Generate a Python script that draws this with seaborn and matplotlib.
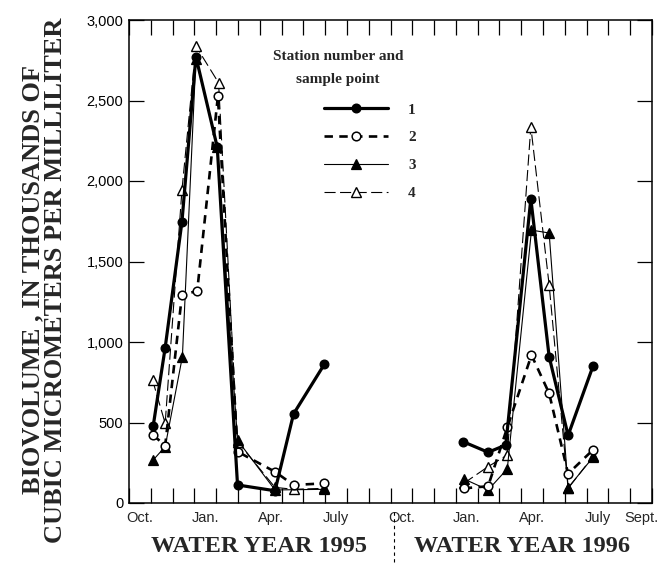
import matplotlib
matplotlib.use("Agg")
import matplotlib.pyplot as plt
from matplotlib.lines import Line2D
import seaborn as sns
import pandas as pd

# Sample times are months elapsed since 1 October 1994; values are biovolume
# in thousands of cubic micrometers per milliliter.
st1_t95 = [1.11, 1.66, 2.43, 3.07, 4.05, 4.98, 6.70, 7.55, 8.97]
st1_v95 = [478, 965, 1747, 2772, 2210, 112, 76, 553, 863]
st1_t96 = [15.33, 16.48, 17.29, 18.44, 19.28, 20.15, 21.30]
st1_v96 = [381, 315, 360, 1890, 909, 420, 853]

st2_t95 = [1.11, 1.66, 2.43, 3.13, 4.08, 4.98, 6.70, 7.55, 8.97]
st2_v95 = [422, 356, 1292, 1317, 2527, 319, 194, 112, 122]
st2_t96 = [15.36, 16.48, 17.36, 18.47, 19.28, 20.15, 21.30]
st2_v96 = [91, 104, 470, 919, 681, 182, 331]

st3_t95 = [1.11, 1.66, 2.45, 3.07, 4.05, 4.98, 6.70, 8.97]
st3_v95 = [267, 350, 909, 2760, 2213, 390, 81, 85]
st3_t96 = [15.36, 16.48, 17.36, 18.47, 19.28, 20.15, 21.30]
st3_v96 = [150, 81, 212, 1695, 1677, 95, 285]

st4_t95 = [1.08, 1.66, 2.43, 3.07, 4.11, 4.98, 6.70, 7.55, 8.97]
st4_v95 = [764, 495, 1944, 2838, 2610, 381, 97, 85, 91]
st4_t96 = [15.36, 16.48, 17.36, 18.44, 19.28, 20.15, 21.30]
st4_v96 = [122, 226, 298, 2337, 1354, 91, 290]

stations = ["1", "2", "3", "4"]
month_labels = ["Oct.", "Jan.", "Apr.", "July", "Oct.", "Jan.", "Apr.", "July", "Sept."]
month_label_pos = [0.5, 3.5, 6.5, 9.5, 12.5, 15.5, 18.5, 21.5, 23.5]
y_ticks = [0, 500, 1000, 1500, 2000, 2500, 3000]

series = {
    "1": [(st1_t95, st1_v95), (st1_t96, st1_v96)],
    "2": [(st2_t95, st2_v95), (st2_t96, st2_v96)],
    "3": [(st3_t95, st3_v95), (st3_t96, st3_v96)],
    "4": [(st4_t95, st4_v95), (st4_t96, st4_v96)],
}
rows = []
for st in stations:
    for wy, (t, v) in zip(["1995", "1996"], series[st]):
        for ti, vi in zip(t, v):
            rows.append({"station": st, "water_year": wy, "month": ti, "biovolume": vi})
df = pd.DataFrame(rows)

sns.set_style("ticks")
plt.rcParams["font.family"] = ["Liberation Sans", "DejaVu Sans"]

styles = {
    "1": dict(lw=2.3, ls="-", marker="o", ms=6.2, mfc="black", mew=1.0),
    "2": dict(lw=1.9, ls=(0, (3.2, 2.4)), marker="o", ms=6.2, mfc="white", mew=1.1),
    "3": dict(lw=0.8, ls="-", marker="^", ms=6.5, mfc="black", mew=0.9),
    "4": dict(lw=0.8, ls=(0, (10, 4)), marker="^", ms=6.8, mfc="white", mew=1.0),
}

W, H = 660, 564
fig = plt.figure(figsize=(W / 100, H / 100), dpi=100)
ax = fig.add_axes([129 / W, 1 - 503 / H, 523 / W, 483 / H])

for st in ["4", "3", "2", "1"]:
    s = styles[st]
    for wy in ["1995", "1996"]:
        sub = df[(df.station == st) & (df.water_year == wy)]
        sns.lineplot(data=sub, x="month", y="biovolume", ax=ax, sort=False,
                     estimator=None, color="black", linewidth=s["lw"],
                     linestyle=s["ls"], marker=s["marker"], markersize=s["ms"],
                     markerfacecolor=s["mfc"], markeredgecolor="black",
                     markeredgewidth=s["mew"], legend=False)

ax.set_xlim(0, 24)
ax.set_ylim(0, 3000)
ax.set_xlabel("")
ax.set_ylabel("")

ax.set_xticks(range(25))
ax.set_xticklabels([])
ax.set_xticks(month_label_pos, minor=True)
ax.set_xticklabels(month_labels, minor=True, fontsize=10.5)
ax.set_yticks(y_ticks)
ax.set_yticklabels([f"{v:,}" for v in y_ticks], fontsize=10.5)
ax.tick_params(which="major", direction="in", length=10.5, width=0.9,
               top=True, right=True, pad=4, colors="black")
ax.tick_params(which="minor", length=0, pad=6, bottom=True, top=False)
for sp in ax.spines.values():
    sp.set_linewidth(1.1)
    sp.set_color("black")

# Legend
handles = []
for st in stations:
    s = styles[st]
    handles.append(Line2D([], [], color="black", lw=s["lw"], ls=s["ls"],
                          marker=s["marker"], ms=s["ms"], mfc=s["mfc"],
                          mec="black", mew=s["mew"]))
ax.legend(handles, stations, loc="upper left",
          bbox_to_anchor=((324 - 129) / 523, (503 - 103) / 483),
          frameon=False, handlelength=4.2, handletextpad=1.3, labelspacing=0.92,
          borderpad=0, borderaxespad=0,
          prop={"family": "Liberation Serif", "weight": "bold", "size": 11})

def px(x, y):
    return x / W, 1 - y / H

serif_bold = dict(fontfamily="Liberation Serif", fontweight="bold")
fig.text(*px(44, 280), "BIOVOLUME , IN THOUSANDS OF\nCUBIC MICROMETERS PER MILLILITER",
         rotation=90, ha="center", va="center", multialignment="center",
         fontsize=19, linespacing=0.95, **serif_bold)

fig.text(*px(338, 57), "Station number and", ha="center", va="center",
         fontsize=11, **serif_bold)
fig.text(*px(338, 80), "sample point", ha="center", va="center",
         fontsize=11, **serif_bold)

fig.text(*px(259, 546), "WATER YEAR 1995", ha="center", va="center",
         fontsize=17.5, **serif_bold)
fig.text(*px(522, 546), "WATER YEAR 1996", ha="center", va="center",
         fontsize=17.5, **serif_bold)
fig.add_artist(Line2D([394 / W, 394 / W], [1 - 512 / H, 1 - 562 / H],
                      transform=fig.transFigure, color="black", lw=0.8,
                      ls=(0, (3, 3))))

fig.savefig("out.png", dpi=100, facecolor="white")
